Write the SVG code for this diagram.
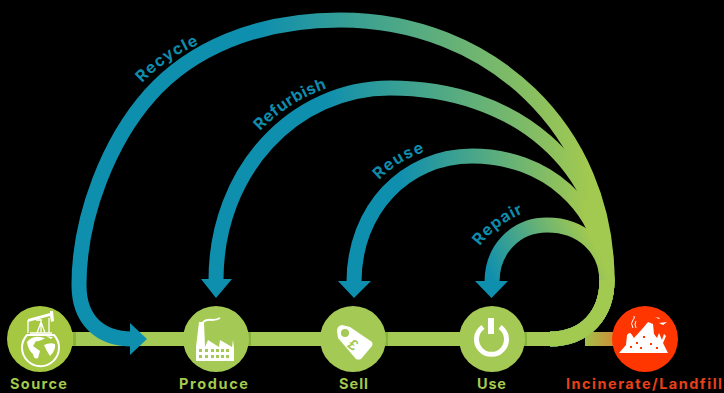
<svg xmlns="http://www.w3.org/2000/svg" xmlns:xlink="http://www.w3.org/1999/xlink" width="724" height="393" viewBox="0 0 724 393">
<style>
.arc{fill:none;stroke-width:15}
.lbl{font-family:Inter,"Liberation Sans",sans-serif;font-weight:700;font-size:14.500px;fill:#a3c94e}
.arcl{font-family:Inter,"Liberation Sans",sans-serif;font-weight:700;font-size:16px;fill:#0f8cab}
.n{fill:#a4ca55}
.w{fill:#fff}
.ws{fill:none;stroke:#fff}
.hd{fill:#0f8fae}
.sh{fill:#86b43a}
</style>
<defs>
<linearGradient id="g1" gradientUnits="userSpaceOnUse" x1="260" y1="0" x2="590" y2="0"><stop offset="0" stop-color="#0f8fae"/><stop offset="1" stop-color="#a2c950"/></linearGradient>
<linearGradient id="g2" gradientUnits="userSpaceOnUse" x1="325" y1="0" x2="590" y2="0"><stop offset="0" stop-color="#0f8fae"/><stop offset="1" stop-color="#a2c950"/></linearGradient>
<linearGradient id="g3" gradientUnits="userSpaceOnUse" x1="400" y1="0" x2="585" y2="0"><stop offset="0" stop-color="#0f8fae"/><stop offset="1" stop-color="#a2c950"/></linearGradient>
<linearGradient id="g4" gradientUnits="userSpaceOnUse" x1="492" y1="280" x2="590" y2="235"><stop offset="0" stop-color="#0f8fae"/><stop offset="1" stop-color="#a2c950"/></linearGradient>
<linearGradient id="or" gradientUnits="userSpaceOnUse" x1="585" y1="0" x2="612" y2="0"><stop offset="0" stop-color="#a2c04a"/><stop offset="1" stop-color="#cb923a"/></linearGradient>
<path id="pRecycle" d="M142,83 Q166,58 200,44"/>
<path id="pRefurbish" d="M260,131 Q290,100 331,87"/>
<path id="pReuse" d="M379,180 Q398,160 428,151"/>
<path id="pRepair" d="M480,246 Q495,225 526,212"/>
</defs>
<rect width="724" height="393" fill="#000"/>
<g id="connectors">
<rect x="70" y="332" width="480" height="14" fill="#a4ca55"/>
<rect x="73" y="332" width="3" height="14" class="sh"/>
<rect x="248" y="332" width="3" height="14" class="sh"/>
<rect x="385" y="332" width="3" height="14" class="sh"/>
<rect x="524" y="332" width="3" height="14" class="sh"/>
<rect x="585" y="332" width="30" height="14" fill="url(#or)"/>
<path class="arc" stroke="url(#g1)" d="M550,339 C585,339 607,315 607,280 C607,130 490,20 340,20 C255,20 190,50 150,95 C110,140 79,215 79,285 C79,320 100,339 132,339"/>
<path class="hd" d="M130,323 L147,339 L130,355 Z"/>
<path class="arc" stroke="url(#g2)" d="M550,339 C585,339 607,315 607,280 C607,165 515,88 390,88 C295,88 216,170 216,280"/>
<path class="hd" d="M201,279 H232 L216,298 Z"/>
<path class="arc" stroke="url(#g3)" d="M550,339 C585,339 607,315 607,280 C603,205 545,156 472,156 C405,156 354,210 354,282"/>
<path class="hd" d="M338,281 H371 L354,298 Z"/>
<path class="arc" stroke="url(#g4)" d="M550,339 C585,339 607,315 607,280 C606,248 582,225 547,225 C515,225 492,250 492,282"/>
<path class="hd" d="M475,281 H508 L491.500,298 Z"/>
<path class="arc" stroke="#a2c950" d="M550,339 C585,339 607,315 607,280"/>
<text class="arcl"><textPath xlink:href="#pRecycle" textLength="69" lengthAdjust="spacing">Recycle</textPath></text>
<text class="arcl"><textPath xlink:href="#pRefurbish" textLength="80" lengthAdjust="spacing">Refurbish</textPath></text>
<text class="arcl"><textPath xlink:href="#pReuse" textLength="54" lengthAdjust="spacing">Reuse</textPath></text>
<text class="arcl"><textPath xlink:href="#pRepair" textLength="55" lengthAdjust="spacing">Repair</textPath></text>
</g>
<g id="source">
<circle class="n" cx="40" cy="339" r="33" style="fill:#a5c742"/>
<path d="M27,335 A18.500,18.500 0 1 0 54,335 Z" fill="#a5c742" stroke="#fff" stroke-width="2"/>
<path class="w" d="M27,342 Q32,336 40,337 L45,338 Q40,342 36,341 L33,346 Q37,349 40,351 L38,358 Q34,360 33,354 Q28,350 27,342 Z M44,345 Q50,342 55,344 Q56,350 50,356 Q47,352 44,345 Z M46,336 L53,337 L51,339 Z"/>
<g class="ws" stroke-width="1.300">
<path d="M28,320 V333 M36,320 H42 M41,321 V333 M37,333 L41,322 L45,333 M49,318 V333 M30,333 H52"/>
</g>
<path class="w" d="M28,319 L50,313 L50,311 L53,311 L54,321 L51,322 L50,316 L28,322 Z"/>
<text class="lbl" x="10" y="389" textLength="57" lengthAdjust="spacing">Source</text>
</g>
<g id="produce">
<circle class="n" cx="216" cy="339" r="33"/>
<path class="w" d="M196,361 V347 L199,322 H204 L205,347 L208,340 L219,347 L220,340 L232,347 L233,340 L234,348 V361 Z"/>
<path fill="#a4ca55" d="M199,349 h3 v3 h-3 z M205,349 h3 v3 h-3 z M211,349 h3 v3 h-3 z M216,349 h3 v3 h-3 z M221,349 h3 v3 h-3 z M226,349 h3 v3 h-3 z M199,355 h3 v3 h-3 z M205,355 h3 v3 h-3 z M211,355 h3 v3 h-3 z M216,355 h3 v3 h-3 z M221,355 h3 v3 h-3 z M226,355 h3 v3 h-3 z"/>
<path class="ws" stroke-width="1.800" d="M203,322 Q207,319 212,320 Q217,320 220,318"/>
<text class="lbl" x="179" y="389" textLength="69" lengthAdjust="spacing">Produce</text>
</g>
<g id="sell">
<circle class="n" cx="353" cy="339" r="33"/>
<path class="w" d="M337,331 Q337,326 342,325 L350,327 L372,342 Q373,344 372,346 L361,359 Q358,360 356,359 L338,338 Z"/>
<circle cx="345" cy="333" r="4" fill="#a4ca55"/>
<text x="353" y="350" font-family="Liberation Sans,sans-serif" font-weight="700" font-size="15" fill="#a4ca55" text-anchor="middle" transform="rotate(38 353 345)">£</text>
<text class="lbl" x="339" y="389" textLength="29" lengthAdjust="spacing">Sell</text>
</g>
<g id="use">
<circle class="n" cx="492" cy="339" r="33"/>
<path class="ws" stroke-width="5" d="M483,327 A15,15 0 1 0 500,327"/>
<rect class="w" x="488" y="318" width="6" height="16"/>
<text class="lbl" x="477" y="389" textLength="29" lengthAdjust="spacing">Use</text>
</g>
<g id="landfill">
<circle cx="645" cy="339" r="33" fill="#ff3600"/>
<path class="w" d="M619,353 L626,345 L627,335 Q630,331 632,335 L634,338 L643,328 L648,322 L653,324 L654,334 L657,338 L659,333 L662,340 L664,334 L666,336 L663,343 L668,353 Z"/>
<path fill="#ff3600" d="M636,342 l2,0 0,2 -2,0 z M643,336 l2,0 0,2 -2,0 z M650,343 l2,0 0,2 -2,0 z M630,346 l2,0 0,2 -2,0 z M640,347 l2,0 0,2 -2,0 z M656,347 l2,0 0,2 -2,0 z"/>
<path class="ws" stroke-width="1" d="M633,328 Q630,323 633,320 Q635,318 634,316 M636,328 Q634,324 636,321"/>
<path class="w" d="M655,317 L660,318 L659,319 Z M659,323 L667,322 L663,325 Z"/>
<text class="lbl" style="fill:#e8401a" x="566" y="389" textLength="156" lengthAdjust="spacing">Incinerate/Landfill</text>
</g>
</svg>
